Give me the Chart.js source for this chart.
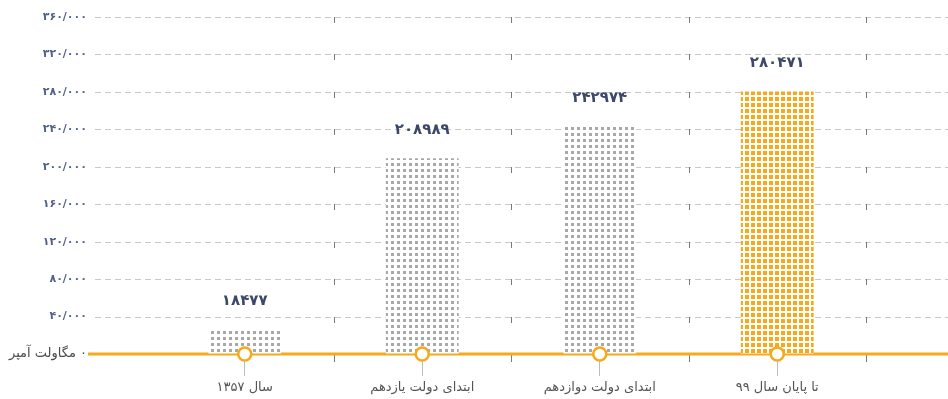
<!DOCTYPE html>
<html>
<head>
<meta charset="utf-8">
<script src="https://cdn.jsdelivr.net/npm/chart.js@4/dist/chart.umd.min.js"></script>
<style>
  html, body { margin: 0; padding: 0; background: #ffffff; }
  #wrap { width: 948px; height: 399px; }
</style>
</head>
<body>
<div id="wrap"><canvas id="c" width="948" height="399"></canvas></div>
<script>
// ---- data ----
const categories = ["سال ۱۳۵۷", "ابتدای دولت یازدهم", "ابتدای دولت دوازدهم", "تا پایان سال ۹۹"];
const capacityMVA = [18477, 208989, 242974, 280471];
const markerValues = [0, 0, 0, 0];
const yMin = 0;
const yMax = 360000;
const yStep = 40000;
const zeroLabel = "۰ مگاولت آمپر";
const highlightIndex = 3;

// ---- helpers ----
const faDigits = "۰۱۲۳۴۵۶۷۸۹";
function toFa(str) { return String(str).replace(/[0-9]/g, d => faDigits[+d]); }
function tickText(v) {
  if (v === 0) return "\u202B" + zeroLabel + "\u202C";
  const th = Math.floor(v / 1000);
  return toFa(th) + "/" + toFa("000");
}

const ORANGE = "#f7a81b";
const GRAY_DOT = "#a8a8a8";
const FONT = "'DejaVu Sans', sans-serif";

function makePattern(color, dw, dh) {
  const p = document.createElement("canvas");
  p.width = 6; p.height = 6;
  const g = p.getContext("2d");
  g.fillStyle = "#ffffff";
  g.fillRect(0, 0, 6, 6);
  g.fillStyle = color;
  g.fillRect(1, 1, dw, dh);
  return g.createPattern(p, "repeat");
}
const ctx = document.getElementById("c").getContext("2d");
const grayPattern = makePattern(GRAY_DOT, 3, 3);
const orangePattern = makePattern(ORANGE, 4, 4);

const extendedGrid = {
  id: "extendedGrid",
  beforeDatasetsDraw(chart) {
    const { ctx, scales: { x, y }, width } = chart;
    ctx.save();
    y.ticks.forEach(t => {
      const py = Math.round(y.getPixelForValue(t.value)) + 0.5;
      if (t.value === 0) return;
      ctx.strokeStyle = "#c9c9c9";
      ctx.lineWidth = 1;
      ctx.setLineDash([6, 4]);
      ctx.beginPath();
      ctx.moveTo(95, py);
      ctx.lineTo(width, py);
      ctx.stroke();
    });
    ctx.setLineDash([]);
    const n = categories.length;
    const cw = (x.right - x.left) / n;
    ctx.strokeStyle = "#7a7a7a";
    ctx.lineWidth = 1;
    y.ticks.forEach(t => {
      const py = Math.round(y.getPixelForValue(t.value));
      for (let k = 1; k <= n; k++) {
        const px = Math.round(x.left + k * cw) + 0.5;
        ctx.beginPath();
        ctx.moveTo(px, py);
        ctx.lineTo(px, py + (t.value === 0 ? 8 : 6));
        ctx.stroke();
      }
    });
    const by = y.getPixelForValue(0);
    ctx.strokeStyle = ORANGE;
    ctx.lineWidth = 3;
    ctx.beginPath();
    ctx.moveTo(88, by);
    ctx.lineTo(width, by);
    ctx.stroke();
    ctx.restore();
  }
};

const valueLabels = {
  id: "valueLabels",
  afterDatasetsDraw(chart) {
    const { ctx } = chart;
    const meta = chart.getDatasetMeta(1);
    ctx.save();
    ctx.font = "bold 15px " + FONT;
    ctx.fillStyle = "#3b4868";
    ctx.textAlign = "center";
    ctx.textBaseline = "middle";
    meta.data.forEach((el, i) => {
      ctx.fillText(toFa(capacityMVA[i]), el.x, el.y - 28);
    });
    ctx.restore();
  }
};

new Chart(ctx, {
  type: "bar",
  data: {
    labels: categories,
    datasets: [
      {
        type: "line",
        data: markerValues,
        showLine: false,
        clip: false,
        pointRadius: 6.5,
        pointHoverRadius: 6.5,
        pointBorderWidth: 2.5,
        pointBorderColor: ORANGE,
        pointBackgroundColor: "#ffffff",
        order: 1
      },
      {
        type: "bar",
        data: capacityMVA,
        backgroundColor: capacityMVA.map((v, i) => i === highlightIndex ? orangePattern : grayPattern),
        borderWidth: 0,
        categoryPercentage: 1,
        barPercentage: 0.41,
        minBarLength: 25,
        order: 2
      }
    ]
  },
  options: {
    responsive: false,
    animation: false,
    events: [],
    layout: { autoPadding: false, padding: { top: 17, right: 82, bottom: 0, left: 0 } },
    plugins: { legend: { display: false }, tooltip: { enabled: false } },
    scales: {
      y: {
        min: yMin,
        max: yMax,
        afterFit(s) { s.width = 156; },
        border: { display: false },
        grid: {
          display: true,
          drawOnChartArea: false,
          drawTicks: true,
          tickLength: 69,
          tickColor: "rgba(0,0,0,0)"
        },
        ticks: {
          stepSize: yStep,
          padding: 0,
          callback: v => tickText(v),
          color: c => c.tick && c.tick.value === 0 ? "#4a4a4a" : "#506088",
          font: c => c.tick && c.tick.value === 0
            ? { family: FONT, size: 13, weight: "normal" }
            : { family: FONT, size: 11, weight: "bold" }
        }
      },
      x: {
        afterFit(s) { s.height = 45; },
        border: { display: false },
        grid: {
          offset: false,
          drawOnChartArea: false,
          drawTicks: true,
          tickLength: 22,
          tickColor: "#bdbdbd",
          tickWidth: 1
        },
        ticks: {
          padding: 4,
          color: "#555555",
          font: { family: FONT, size: 13 },
          maxRotation: 0
        }
      }
    }
  },
  plugins: [extendedGrid, valueLabels]
});
</script>
</body>
</html>
